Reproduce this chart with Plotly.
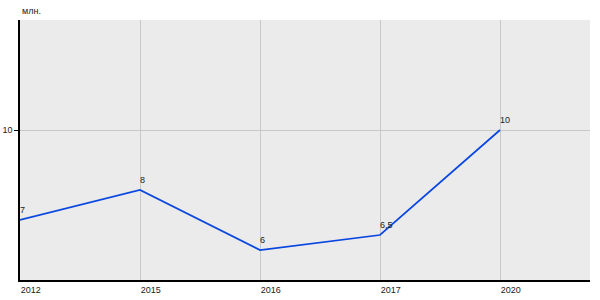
import plotly.graph_objects as go

years = ["2012", "2015", "2016", "2017", "2020"]
values = [7, 8, 6, 6.5, 10]
labels = ["7", "8", "6", "6,5", "10"]
y_ticks = [10]
unit = "млн."

xpos = list(range(len(years)))

fig = go.Figure()
fig.add_trace(go.Scatter(
    x=xpos, y=values, mode="lines",
    line=dict(color="#0a46e0", width=1.7),
    cliponaxis=False, hoverinfo="skip",
))

annotations = [dict(
    text=unit, xref="paper", yref="paper", x=0, y=1,
    xanchor="left", yanchor="bottom", yshift=2, showarrow=False,
    font=dict(size=9, color="#222222"),
)]
for xp, v, lab in zip(xpos, values, labels):
    annotations.append(dict(
        x=xp, y=v, xref="x", yref="y", text=lab, showarrow=False,
        xanchor="left", yanchor="bottom", xshift=-2, yshift=3,
        font=dict(size=9, color="#222222"),
    ))

fig.update_layout(
    width=600, height=300,
    margin=dict(l=20, r=10, t=20, b=20),
    paper_bgcolor="white", plot_bgcolor="#ebebeb",
    showlegend=False,
    font=dict(family="Liberation Sans, Arial", size=9, color="#222222"),
    xaxis=dict(
        range=[0, 4.75], tickvals=xpos, ticktext=years,
        showgrid=True, gridcolor="#c8c8c8", gridwidth=1,
        showline=True, linecolor="black", linewidth=1.5,
        ticks="", ticklabelposition="outside right",
        zeroline=False, fixedrange=True, automargin=False,
    ),
    yaxis=dict(
        range=[5, 13.667], tickvals=y_ticks,
        showgrid=True, gridcolor="#c8c8c8", gridwidth=1,
        showline=True, linecolor="black", linewidth=1.5,
        ticks="outside", ticklen=4, tickcolor="black",
        zeroline=False, fixedrange=True, automargin=False,
    ),
    annotations=annotations,
)

fig.write_html("out.html")
